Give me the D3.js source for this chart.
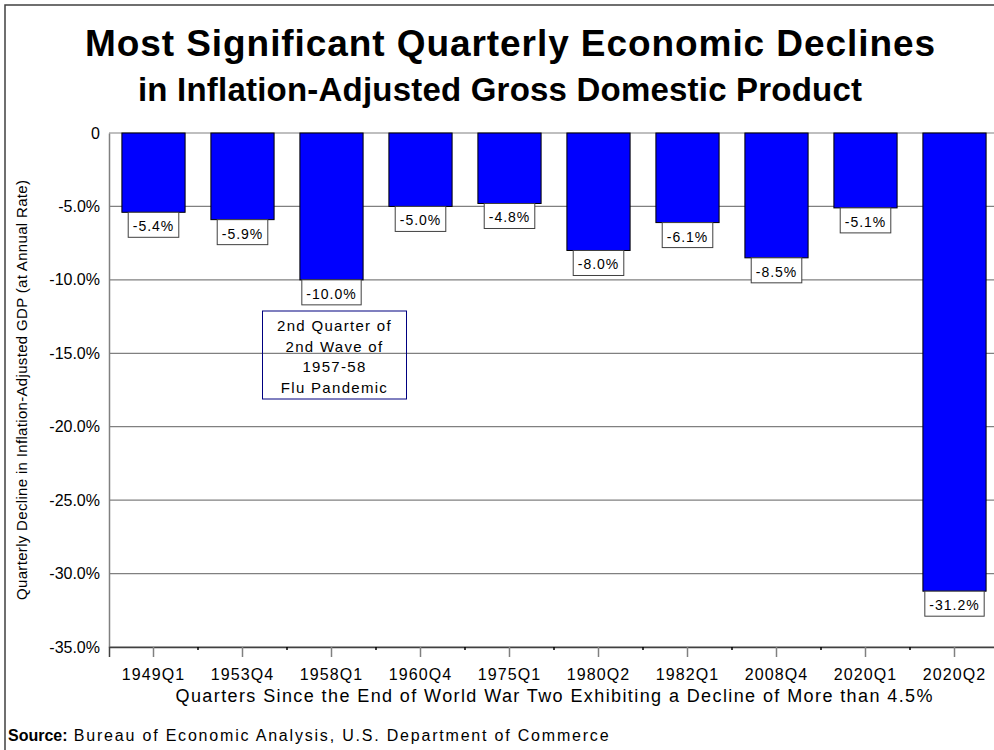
<!DOCTYPE html>
<html lang="en">
<head>
  <meta charset="UTF-8">
  <title>Most Significant Quarterly Economic Declines</title>
  <style>
    body { margin: 0; padding: 0; background: #fff; font-family: "Liberation Sans", Arial, sans-serif; }
    svg { display: block; }
    .grid line { stroke: #808080; stroke-width: 1.2; }
    .lbl text, .note text { fill: #000; }
  </style>
</head>
<body>
  <svg id="chart" width="994" height="750"></svg>
  <script src="https://d3js.org/d3.v7.min.js"></script>
  <script>
  (function(){
    const quarters = ["1949Q1","1953Q4","1958Q1","1960Q4","1975Q1","1980Q2","1982Q1","2008Q4","2020Q1","2020Q2"],
          declines = [-5.4, -5.9, -10.0, -5.0, -4.8, -8.0, -6.1, -8.5, -5.1, -31.2],
          yTicks   = [0, -5, -10, -15, -20, -25, -30, -35],
          noteLines = ["2nd Quarter of", "2nd Wave of", "1957-58", "Flu Pandemic"];

    const svg = d3.select("#chart"),
          margin = { top: 133, left: 109, right: 999, bottom: 647 };

    const pct = d => d.toFixed(1) + "%";

    const x = d3.scaleBand()
      .domain(quarters)
      .range([margin.left, margin.right])
      .paddingInner(0.29)
      .paddingOuter(0.145);

    const y = d3.scaleLinear()
      .domain([0, -35])
      .range([margin.top, margin.bottom]);

    // outer frame
    svg.append("rect")
      .attr("x", 5).attr("y", 5)
      .attr("width", 1000).attr("height", 800)
      .attr("fill", "none")
      .attr("stroke", "#404040")
      .attr("stroke-width", 1.5);

    // titles
    svg.append("text")
      .attr("x", 510).attr("y", 56)
      .attr("text-anchor", "middle")
      .attr("font-size", 37).attr("font-weight", "bold")
      .attr("textLength", 850).attr("lengthAdjust", "spacing")
      .text("Most Significant Quarterly Economic Declines");

    svg.append("text")
      .attr("x", 500).attr("y", 101)
      .attr("text-anchor", "middle")
      .attr("font-size", 33).attr("font-weight", "bold")
      .attr("textLength", 724).attr("lengthAdjust", "spacing")
      .text("in Inflation-Adjusted Gross Domestic Product");

    // gridlines
    svg.append("g")
      .attr("class", "grid")
      .selectAll("line")
      .data(yTicks)
      .join("line")
        .attr("x1", margin.left).attr("x2", margin.right)
        .attr("y1", d => y(d)).attr("y2", d => y(d));

    // y axis
    const yAxis = svg.append("g")
      .attr("transform", `translate(${margin.left},0)`)
      .call(d3.axisLeft(y).tickValues(yTicks).tickSize(0).tickPadding(9)
        .tickFormat(d => d === 0 ? "0" : pct(d)));
    yAxis.select(".domain").attr("stroke", "#808080").attr("stroke-width", 1.5);
    yAxis.selectAll("text")
      .attr("font-size", 16)
      .attr("font-family", "Liberation Sans, Arial, sans-serif")
      .attr("fill", "#000");

    svg.append("text")
      .attr("transform", `translate(27,${(margin.top + margin.bottom) / 2}) rotate(-90)`)
      .attr("text-anchor", "middle")
      .attr("font-size", 15)
      .attr("textLength", 420).attr("lengthAdjust", "spacing")
      .text("Quarterly Decline in Inflation-Adjusted GDP (at Annual Rate)");

    // bars
    svg.append("g")
      .selectAll("rect")
      .data(declines)
      .join("rect")
        .attr("x", (d, i) => x(quarters[i]))
        .attr("y", y(0))
        .attr("width", x.bandwidth())
        .attr("height", d => y(d) - y(0))
        .attr("fill", "#0000FF")
        .attr("stroke", "#000")
        .attr("stroke-width", 1);

    // x axis
    const xAxis = svg.append("g")
      .attr("transform", `translate(0,${margin.bottom})`)
      .call(d3.axisBottom(x).tickSize(10).tickPadding(12));
    xAxis.select(".domain").attr("stroke", "#404040").attr("stroke-width", 1.5);
    xAxis.selectAll(".tick line").attr("stroke", "#808080").attr("stroke-width", 1.5);
    xAxis.selectAll("text")
      .attr("font-size", 16)
      .attr("letter-spacing", "1.1px")
      .attr("font-family", "Liberation Sans, Arial, sans-serif")
      .attr("fill", "#000");

    // minor ticks at category boundaries
    svg.append("g")
      .selectAll("line")
      .data(quarters.slice(1))
      .join("line")
        .attr("x1", d => x(d) - x.step() * x.paddingInner() / 2)
        .attr("x2", d => x(d) - x.step() * x.paddingInner() / 2)
        .attr("y1", margin.bottom).attr("y2", margin.bottom + 3)
        .attr("stroke", "#000").attr("stroke-width", 1.5);

    svg.append("text")
      .attr("x", (margin.left + margin.right) / 2).attr("y", 702)
      .attr("text-anchor", "middle")
      .attr("font-size", 18)
      .attr("textLength", 757).attr("lengthAdjust", "spacing")
      .text("Quarters Since the End of World War Two Exhibiting a Decline of More than 4.5%");

    // value labels
    const lbl = svg.append("g")
      .attr("class", "lbl")
      .selectAll("g")
      .data(declines)
      .join("g")
        .attr("transform", (d, i) => `translate(${x(quarters[i]) + x.bandwidth() / 2},${y(d)})`);

    lbl.append("text")
      .attr("y", 19)
      .attr("text-anchor", "middle")
      .attr("font-size", 14)
      .attr("letter-spacing", "1px")
      .text(d => pct(d));

    lbl.each(function() {
      const g = d3.select(this),
            w = g.select("text").node().getComputedTextLength() + 9;
      g.insert("rect", "text")
        .attr("x", -w / 2).attr("y", 0)
        .attr("width", w).attr("height", 25)
        .attr("fill", "#fff")
        .attr("stroke", "#404040")
        .attr("stroke-width", 1);
    });

    // annotation
    const note = svg.append("g").attr("class", "note");
    const nx = x("1958Q1") + x.bandwidth() / 2 + 3;
    note.append("rect")
      .attr("x", nx - 72).attr("y", 311)
      .attr("width", 144).attr("height", 88)
      .attr("fill", "none")
      .attr("stroke", "#000080")
      .attr("stroke-width", 1);
    note.selectAll("text")
      .data(noteLines)
      .join("text")
        .attr("x", nx)
        .attr("y", (d, i) => 331 + i * 20.7)
        .attr("text-anchor", "middle")
        .attr("font-size", 15)
        .attr("letter-spacing", "1.3px")
        .text(d => d);

    // source
    const src = svg.append("text")
      .attr("x", 8).attr("y", 741)
      .attr("font-size", 16)
      .attr("letter-spacing", "1.8px");
    src.append("tspan").attr("font-weight", "bold").attr("letter-spacing", "0px").text("Source:");
    src.append("tspan").text(" Bureau of Economic Analysis, U.S. Department of Commerce");
  })();
  </script>
</body>
</html>
